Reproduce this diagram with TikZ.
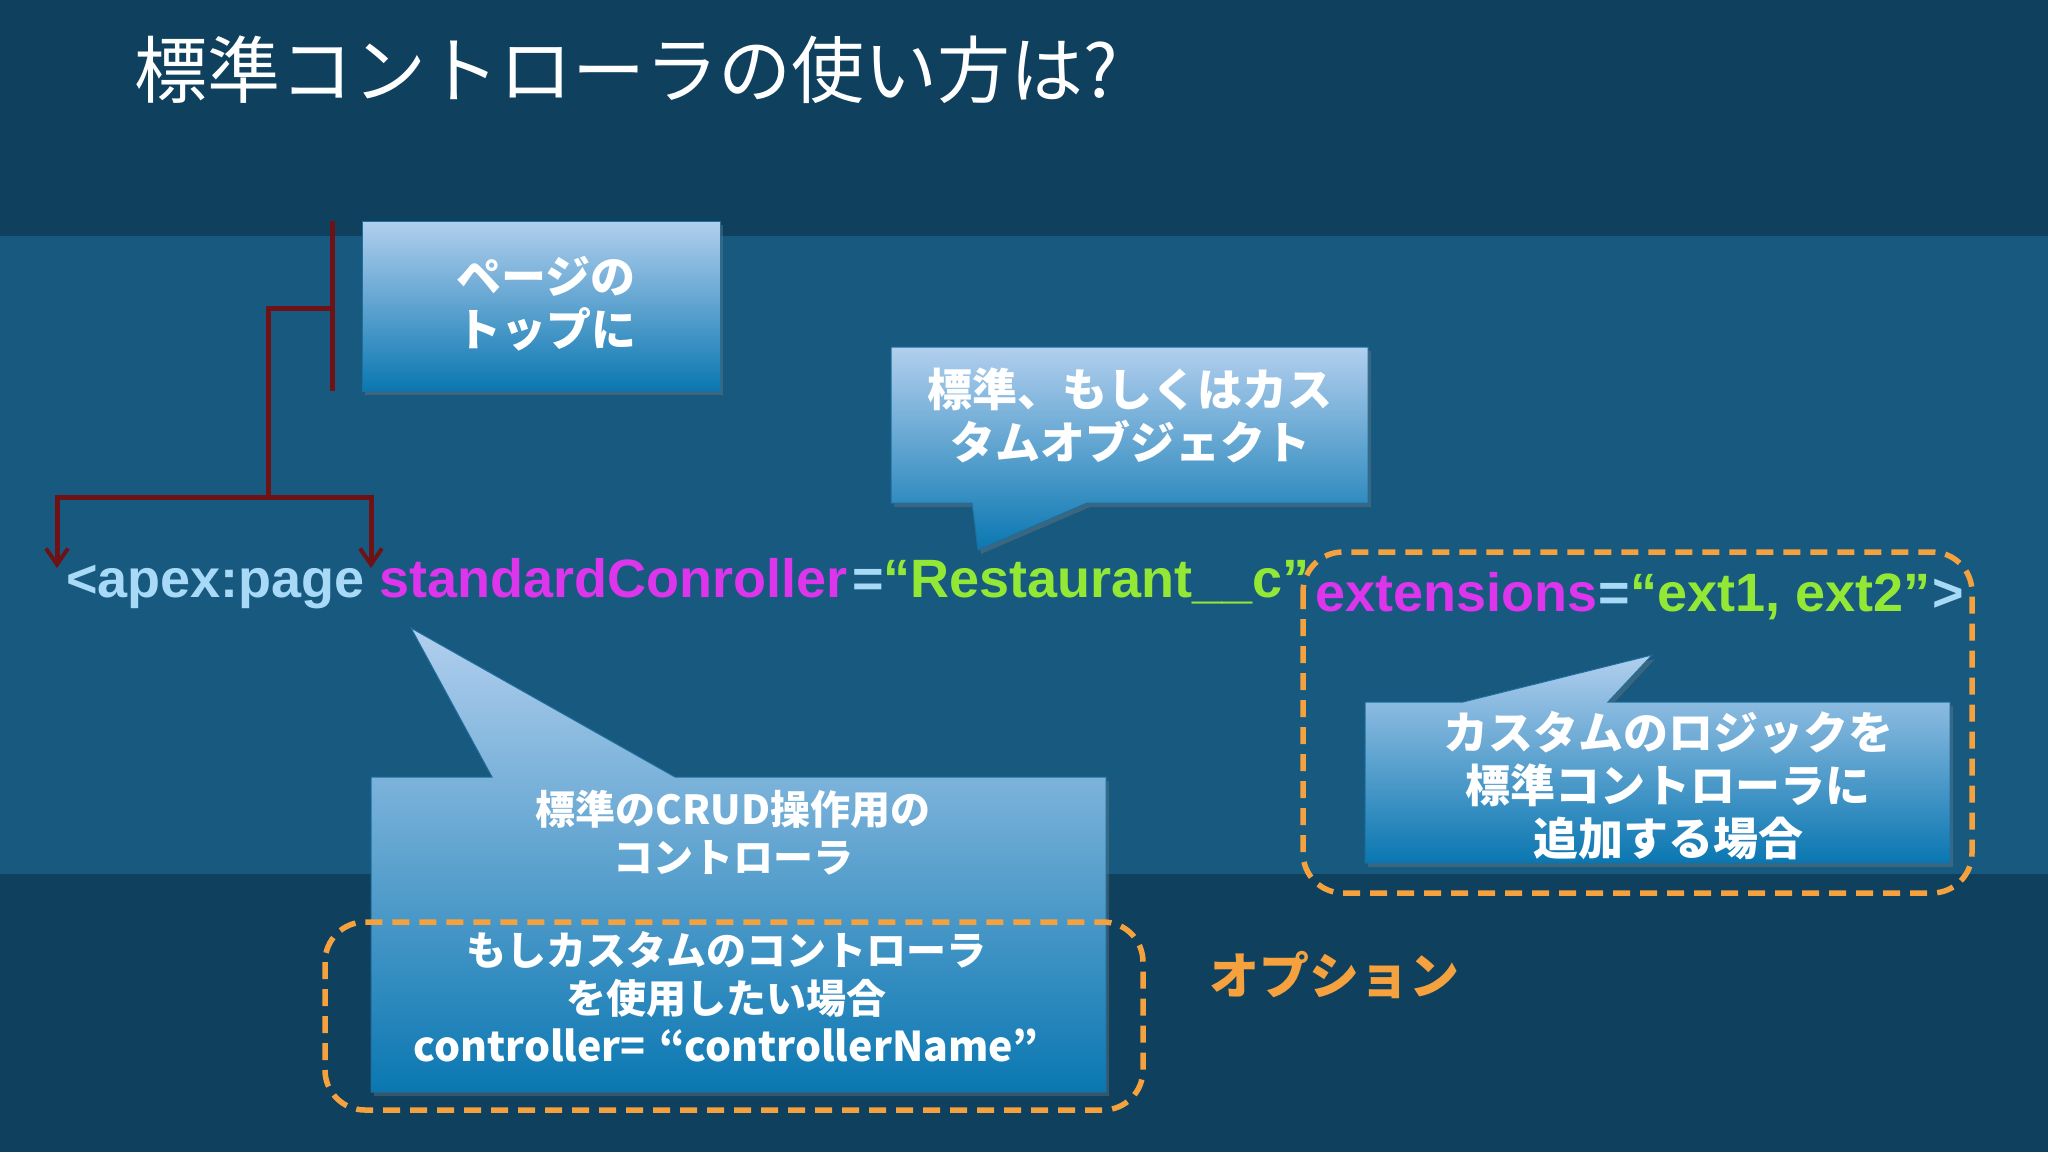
\documentclass[tikz,border=0pt]{standalone}
\usepackage{fontspec}
\usetikzlibrary{arrows.meta,shadows,calc}
\newfontfamily\jp{Noto Sans CJK JP}
\newfontfamily\codefont{Liberation Sans}
\definecolor{bgdark}{HTML}{0F405E}
\definecolor{bgmid}{HTML}{17597F}
\definecolor{boxtop}{HTML}{B2CFEE}
\definecolor{boxbot}{HTML}{0A77B1}
\definecolor{boxedge}{HTML}{1E6E9E}
\definecolor{brred}{HTML}{6E1216}
\definecolor{codeblue}{HTML}{A8DAF7}
\definecolor{codemag}{HTML}{DC35EC}
\definecolor{codegreen}{HTML}{93E835}
\definecolor{optorange}{HTML}{F5A23E}
\begin{document}
\begin{tikzpicture}[x=1pt,y=-1pt,
  callout/.style={top color=boxtop, bottom color=boxbot, draw=boxedge, line width=1pt,
    drop shadow={shadow xshift=3pt, shadow yshift=-4pt, opacity=0.35}},
  boxtext/.style={text=white, align=center, inner sep=0pt,
    font=\jp\bfseries\fontsize{45}{53}\selectfont},
  smalltext/.style={text=white, align=center, inner sep=0pt,
    font=\jp\bfseries\fontsize{40}{48}\selectfont},
  codetext/.style={anchor=base west, inner sep=0pt,
    font=\codefont\bfseries\fontsize{54}{60}\selectfont},
  optbox/.style={draw=optorange, line width=5.5pt, dash pattern=on 17pt off 10pt, rounded corners=40pt},
  bracket/.style={draw=brred, line width=5pt},
  brarrow/.style={bracket, -{Straight Barb[length=16pt,width=22pt,line width=4pt]}},
]
\useasboundingbox (0,0) rectangle (2048,1152);
% background bands
\fill[bgdark] (0,0) rectangle (2048,236);
\fill[bgmid] (0,236) rectangle (2048,874);
\fill[bgdark] (0,874) rectangle (2048,1152);

% title
\node[anchor=west, inner sep=0pt, text=white, font=\jp\fontsize{73}{80}\selectfont] (title) at (134,70) {標準コントローラの使い方は?};

% code line
\node[codetext, text=codeblue] (c1) at (66,597) {<apex:page};
\node[codetext, text=codemag] (c2) at (379,597) {standardConroller};
\node[codetext, text=codeblue] (c3) at (852,597) {=};
\node[codetext, text=codegreen] (c4) at (883,597) {“Restaurant\_\_c”};
\node[codetext, text=codemag] (c5) at (1315,611) {extensions};
\node[codetext, text=codeblue] (c6) at (1598,611) {=};
\node[codetext, text=codegreen] (c7) at (1630,611) {“ext1, ext2”};
\node[codetext, text=codeblue] (c8) at (1932,611) {>};

% red bracket
\coordinate (brtop) at (332,221);
\coordinate (brbot) at (332,391);
\coordinate (brmid) at (332,308);
\coordinate (brelbow) at (268,308);
\coordinate (brjoin) at (268,497);
\coordinate (brL) at (57,497);
\coordinate (brR) at (371,497);
\coordinate (tipL) at (57,568);
\coordinate (tipR) at (371,568);
\draw[bracket] (brtop) -- (brbot);
\draw[bracket, line cap=rect] (brmid) -- (brelbow) -- (brjoin);
\draw[bracket, line cap=rect] (brL) -- (brR);
\draw[brarrow] (brL) -- (tipL);
\draw[brarrow] (brR) -- (tipR);

% box 1
\path[callout] (362,221) rectangle (720,391);
\node[boxtext] (t1) at (546,304) {ページの\\トップに};

% box 2
\path[callout] (891,347) -- (1368,347) -- (1368,503) -- (1087,503) -- (978,550) -- (972,503) -- (891,503) -- cycle;
\node[boxtext] (t2) at (1130,415) {標準、もしくはカス\\タムオブジェクト};

% box 3
\path[callout] (1365,702) -- (1463,702) -- (1652,655) -- (1608,702) -- (1950,702) -- (1950,863) -- (1365,863) -- cycle;
\node[boxtext] (t3) at (1668,786) {カスタムのロジックを\\標準コントローラに\\追加する場合};

% box 4
\path[callout] (371,777) -- (492,777) -- (411,628) -- (675,777) -- (1106,777) -- (1106,1092) -- (371,1092) -- cycle;
\node[smalltext] (t4) at (733,833) {標準のCRUD操作用の\\コントローラ};
\node[smalltext] (t5) at (726,997) {もしカスタムのコントローラ\\を使用したい場合\\{\fontsize{41}{48}\selectfont controller=\hspace{14pt}“controllerName”}};

% dashed option boxes
\draw[optbox] (325,922) rectangle (1143,1110);
\draw[optbox] (1303,552) rectangle (1972,893);

\node[text=optorange, inner sep=0pt, font=\jp\bfseries\fontsize{50}{56}\selectfont] (opt) at (1334,975) {オプション};
\end{tikzpicture}
\end{document}
